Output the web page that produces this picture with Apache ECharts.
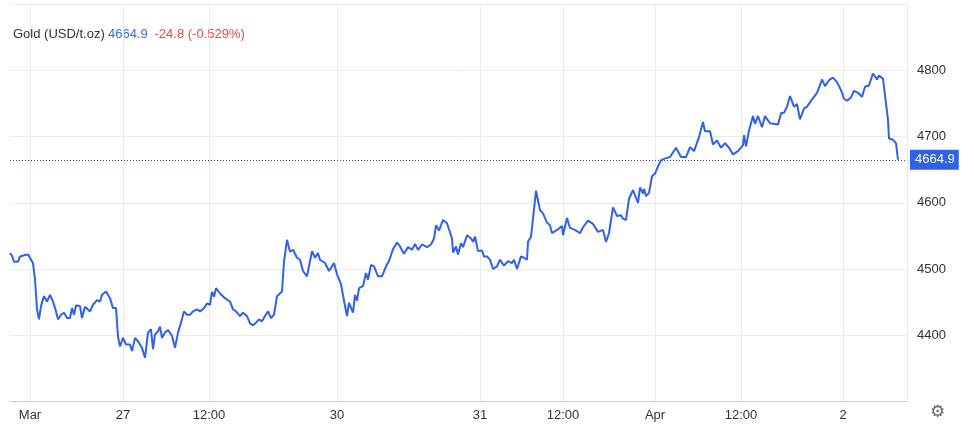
<!DOCTYPE html>
<html>
<head>
<meta charset="utf-8">
<script src="https://cdn.jsdelivr.net/npm/echarts@6/dist/echarts.min.js"></script>
<style>
  html, body { margin: 0; padding: 0; background: #fff; }
  #chart { width: 974px; height: 431px; }
</style>
</head>
<body>
<div id="chart"></div>
<script>
// time steps (chart time units) and gold prices
var times = [10, 12, 14, 18, 20, 25, 28, 30, 33, 35, 37, 39, 41, 44, 47, 50, 53, 56, 58, 61, 64, 67, 70, 72, 74, 76, 80, 82, 85, 90, 93, 97, 100, 102, 106, 110, 113, 116, 118, 120, 123, 126, 130, 132, 135, 138, 142, 145, 148, 151, 153, 155, 158, 160, 162, 165, 168, 172, 175, 178, 181, 184, 187, 190, 193, 197, 200, 204, 207, 210, 212, 214, 216, 220, 225, 230, 233, 236, 240, 243, 247, 250, 253, 256, 259, 262, 265, 268, 271, 274, 277, 279, 282, 284, 287, 290, 293, 297, 300, 303, 307, 312, 315, 318, 320, 325, 329, 334, 337, 341, 344, 347, 349, 353, 355, 357, 359, 363, 366, 368, 371, 374, 378, 382, 386, 389, 393, 397, 400, 404, 408, 412, 415, 418, 422, 427, 431, 434, 436, 439, 443, 447, 449, 452, 453, 456, 458, 461, 463, 467, 471, 473, 475, 478, 482, 484, 487, 490, 493, 497, 500, 504, 508, 512, 514, 517, 521, 524, 527, 528, 531, 532, 536, 540, 543, 544, 547, 550, 552, 557, 562, 563, 567, 570, 575, 580, 583, 588, 593, 598, 603, 606, 609, 613, 617, 621, 623, 626, 629, 633, 638, 640, 643, 644, 646, 649, 652, 655, 658, 661, 665, 670, 676, 681, 686, 690, 694, 699, 703, 705, 710, 713, 717, 721, 725, 729, 733, 738, 743, 744, 746, 749, 753, 755, 758, 762, 765, 770, 775, 778, 781, 784, 787, 790, 794, 797, 800, 804, 807, 812, 817, 822, 825, 829, 833, 837, 841, 844, 847, 851, 854, 858, 862, 865, 869, 872, 873, 877, 879, 883, 885, 888, 889, 893, 896, 898];
var prices = [4524, 4520, 4511, 4511, 4519, 4521, 4522, 4521, 4509, 4484, 4439, 4424, 4444, 4459, 4451, 4461, 4451, 4436, 4424, 4431, 4434, 4426, 4426, 4441, 4431, 4445, 4444, 4426, 4443, 4436, 4446, 4453, 4451, 4461, 4466, 4456, 4441, 4441, 4398, 4383, 4396, 4386, 4386, 4376, 4396, 4391, 4381, 4366, 4404, 4409, 4379, 4401, 4406, 4413, 4396, 4404, 4408, 4399, 4381, 4404, 4419, 4436, 4431, 4431, 4436, 4439, 4436, 4441, 4448, 4446, 4466, 4458, 4471, 4463, 4456, 4451, 4439, 4436, 4429, 4434, 4429, 4418, 4415, 4419, 4424, 4421, 4429, 4436, 4426, 4431, 4459, 4456, 4466, 4511, 4544, 4526, 4529, 4517, 4514, 4497, 4489, 4527, 4517, 4524, 4514, 4509, 4497, 4509, 4492, 4477, 4452, 4429, 4449, 4434, 4461, 4452, 4471, 4474, 4494, 4484, 4506, 4504, 4489, 4489, 4504, 4512, 4530, 4540, 4534, 4523, 4533, 4529, 4538, 4529, 4537, 4533, 4537, 4546, 4566, 4558, 4574, 4569, 4569, 4546, 4525, 4534, 4522, 4539, 4533, 4551, 4546, 4541, 4549, 4527, 4528, 4519, 4519, 4514, 4500, 4504, 4514, 4505, 4512, 4509, 4514, 4500, 4519, 4517, 4514, 4541, 4549, 4547, 4618, 4589, 4584, 4587, 4570, 4566, 4554, 4559, 4565, 4551, 4577, 4562, 4559, 4554, 4563, 4573, 4568, 4556, 4559, 4541, 4554, 4593, 4580, 4581, 4576, 4574, 4606, 4619, 4600, 4623, 4614, 4621, 4610, 4615, 4640, 4644, 4655, 4664, 4667, 4669, 4683, 4669, 4669, 4684, 4678, 4699, 4722, 4708, 4708, 4688, 4694, 4683, 4690, 4683, 4673, 4678, 4687, 4702, 4685, 4709, 4731, 4719, 4731, 4714, 4731, 4720, 4719, 4718, 4735, 4736, 4745, 4761, 4745, 4749, 4726, 4742, 4745, 4756, 4766, 4786, 4776, 4785, 4789, 4782, 4770, 4757, 4754, 4759, 4769, 4766, 4760, 4775, 4777, 4791, 4795, 4786, 4792, 4787, 4784, 4725, 4697, 4695, 4690, 4664.9];
var tickTimes = [30, 123, 209, 337, 480, 563, 655, 741, 843];
var tickLabels = ["Mar", "27", "12:00", "30", "31", "12:00", "Apr", "12:00", "2"];
var yTicks = [4400, 4500, 4600, 4700, 4800];
var lastPrice = 4664.9;

var chart = echarts.init(document.getElementById("chart"));

var seriesData = times.map(function (t, i) { return [t, prices[i]]; });

var option = {
    animation: false,
    grid: { left: 10, right: 67, top: 4, bottom: 29.5 },
    graphic: [
        {
            type: "text",
            left: 13,
            top: 28,
            style: {
                text: "{a|Gold (USD/t.oz)} {b|4664.9}  {c|-24.8 (-0.529%)}",
                rich: {
                    a: { fill: "#333", fontSize: 13, fontFamily: "Arial, Liberation Sans" },
                    b: { fill: "#3b6be8", fontSize: 13, fontFamily: "Arial, Liberation Sans" },
                    c: { fill: "#e04a4a", fontSize: 13, fontFamily: "Arial, Liberation Sans" }
                }
            }
        },
        {
            type: "text",
            left: 930,
            top: 404,
            style: { text: "⚙", fill: "#666", fontSize: 17, fontFamily: "DejaVu Sans" }
        }
    ],
    xAxis: {
        type: "value",
        min: 10,
        max: 907,
        axisLine: { show: true, lineStyle: { color: "#ccc" } },
        axisTick: { show: false, customValues: tickTimes },
        splitLine: { show: true, lineStyle: { color: "#ebebeb" } },
        axisLabel: {
            customValues: tickTimes,
            color: "#333",
            fontSize: 13,
            fontFamily: "Arial, Liberation Sans",
            margin: 7,
            formatter: function (v) {
                var i = tickTimes.indexOf(v);
                return i >= 0 ? tickLabels[i] : "";
            }
        }
    },
    yAxis: {
        type: "value",
        position: "right",
        min: 4300,
        max: 4900,
        interval: 100,
        axisLine: { show: true, lineStyle: { color: "#ebebeb" } },
        axisTick: { show: false },
        splitLine: {
            lineStyle: { color: "#ebebeb" },
            interval: function (i, v) { return yTicks.indexOf(v) >= 0; }
        },
        axisLabel: {
            color: "#333",
            fontSize: 13,
            fontFamily: "Arial, Liberation Sans",
            margin: 10,
            formatter: function (v) { return yTicks.indexOf(v) >= 0 ? String(v) : ""; }
        }
    },
    series: [
        {
            type: "line",
            data: seriesData,
            showSymbol: false,
            lineStyle: { color: "#2f62e9", width: 2 },
            markLine: {
                silent: true,
                symbol: "none",
                lineStyle: { color: "#3b4c7a", type: [1, 2], width: 1 },
                data: [{ yAxis: lastPrice }],
                label: {
                    position: "end",
                    formatter: "4664.9",
                    color: "#fff",
                    backgroundColor: "#2f62e9",
                    padding: [4, 4, 3, 5],
                    fontSize: 13,
                    fontFamily: "Arial, Liberation Sans",
                    distance: 3
                }
            }
        }
    ]
};

chart.setOption(option);
</script>
</body>
</html>
